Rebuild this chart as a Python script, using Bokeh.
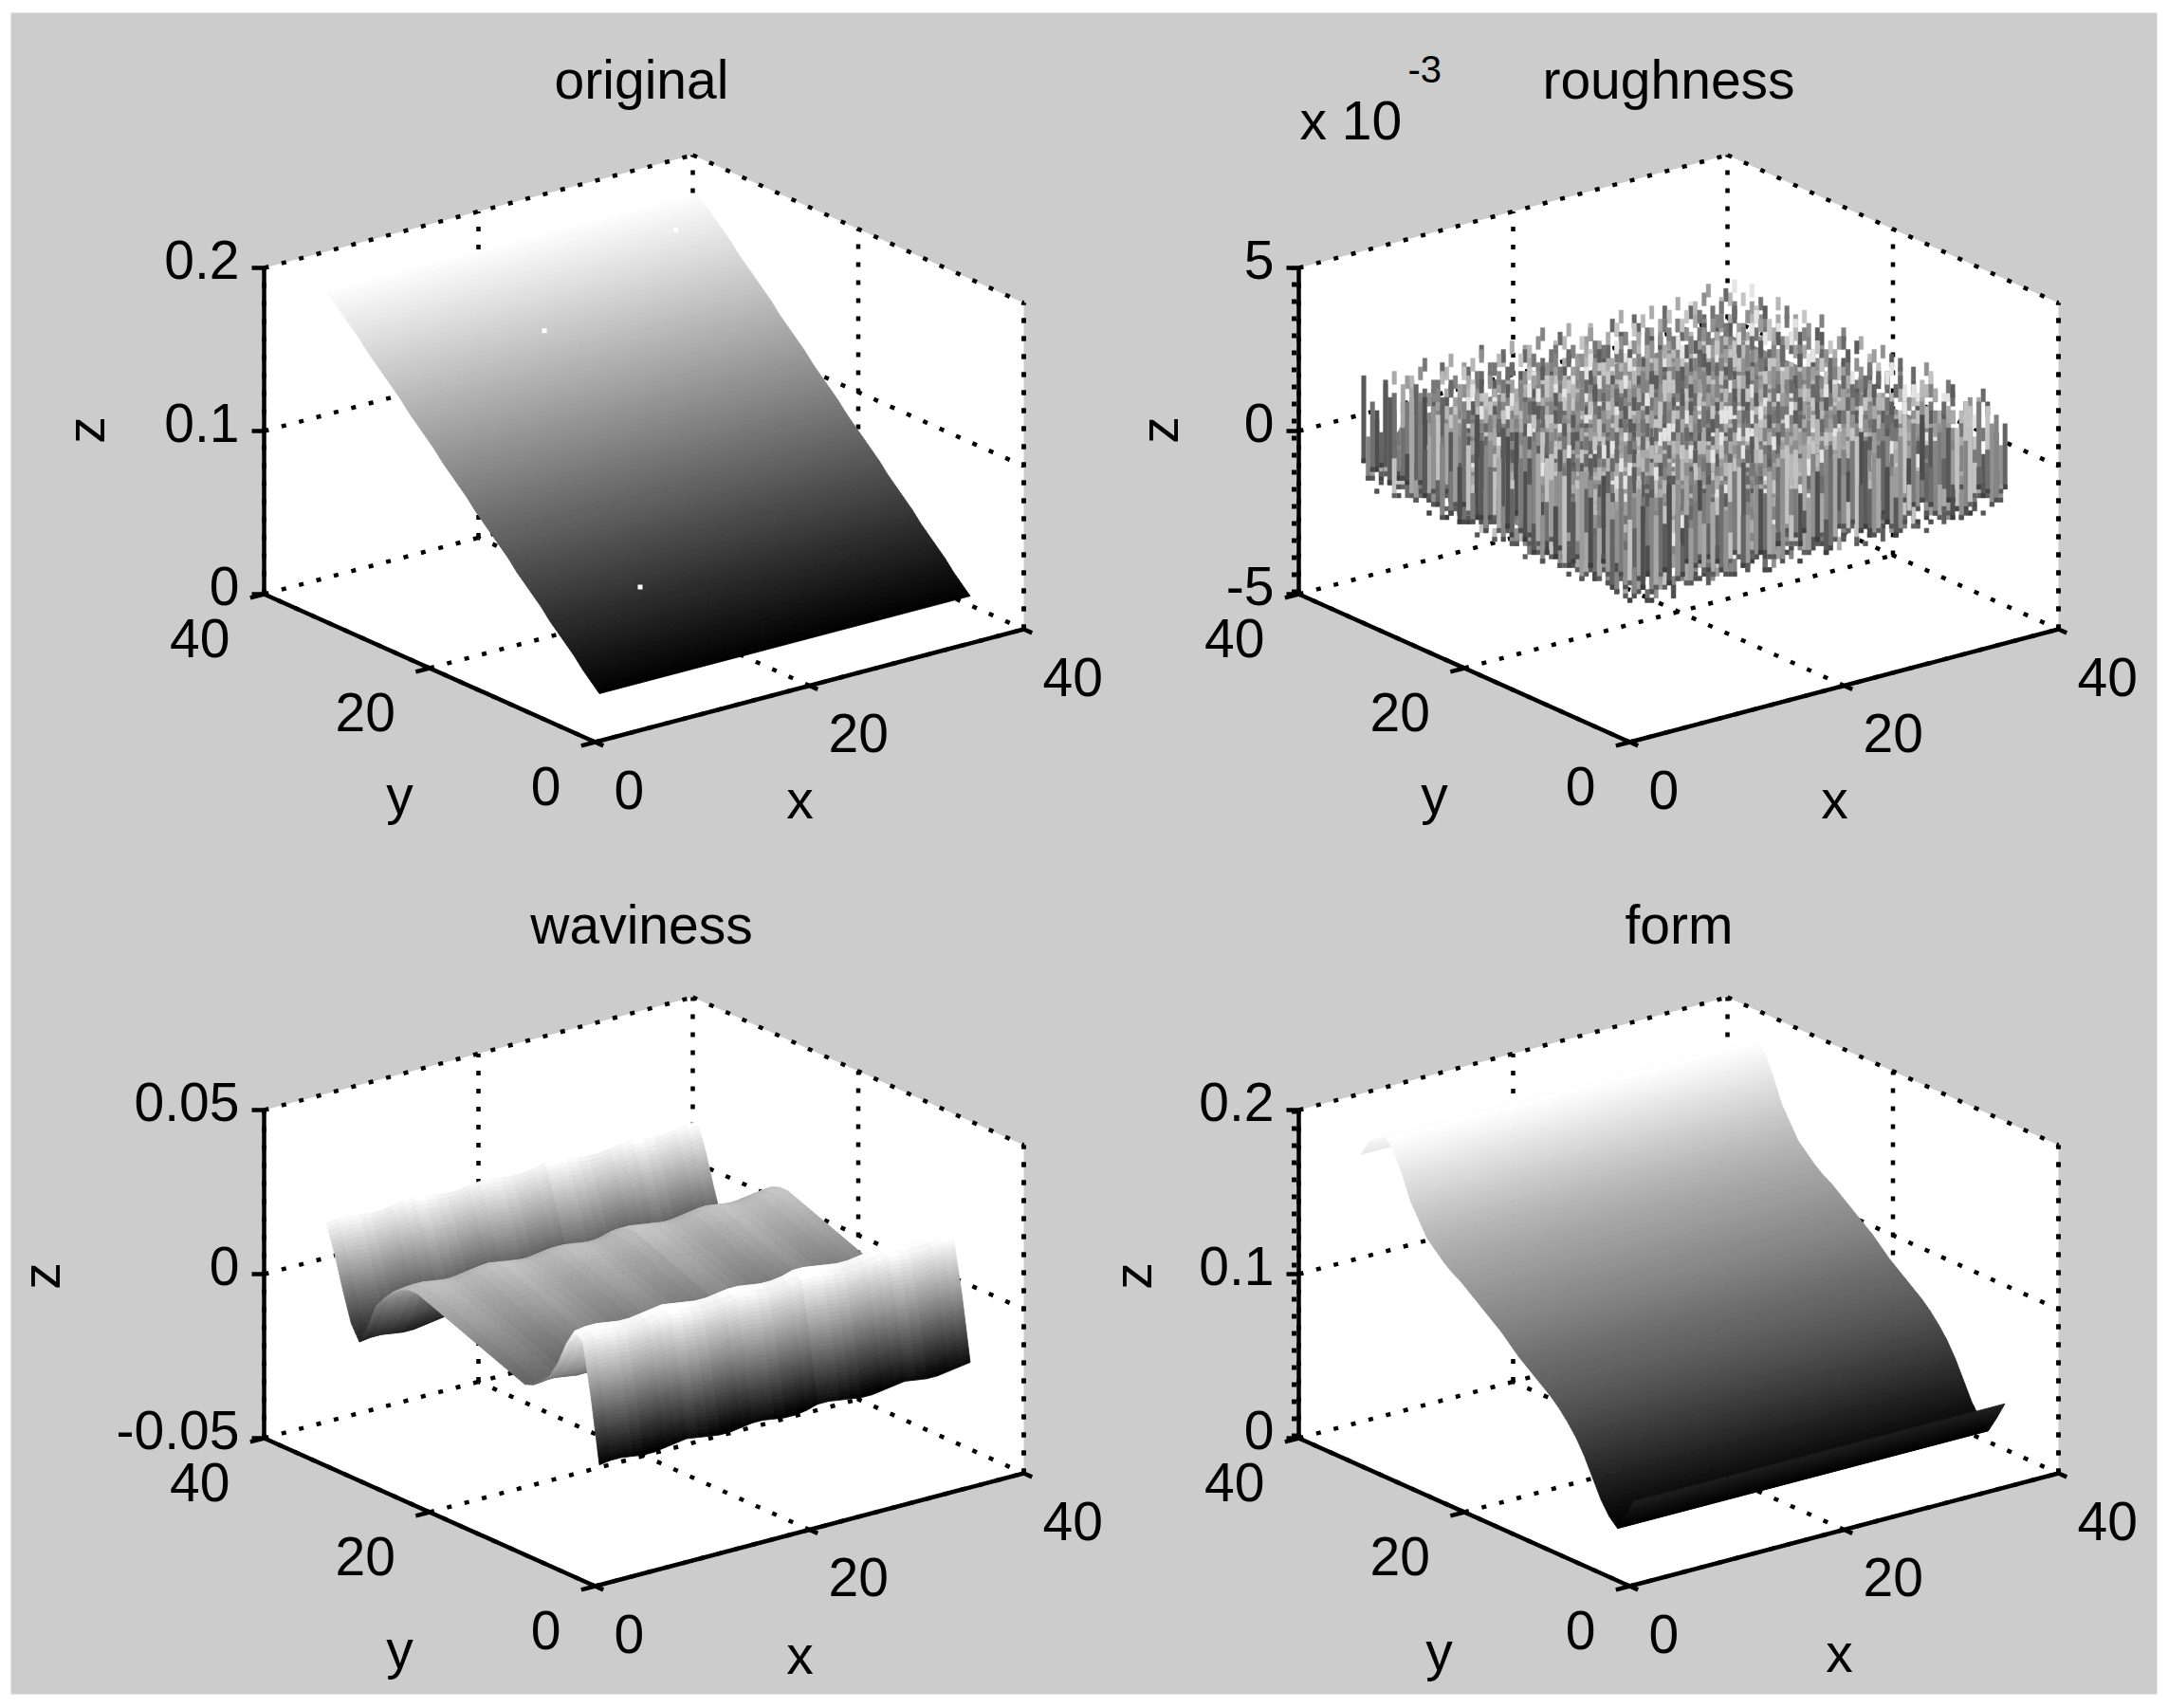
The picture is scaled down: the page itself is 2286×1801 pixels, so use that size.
import numpy as np
from bokeh.plotting import figure
from bokeh.models import Range1d
from bokeh.core.properties import value
from bokeh.embed import file_html
from bokeh.resources import INLINE

# ---- data ----
titles = ["original", "roughness", "waviness", "form"]
x_ticks = [0, 20, 40]
y_ticks = [0, 20, 40]
z_ticks_original = [0, 0.1, 0.2]
z_ticks_roughness = [-5, 0, 5]
z_ticks_waviness = [-0.05, 0, 0.05]
z_ticks_form = [0, 0.1, 0.2]
z_labels_original = ["0", "0.1", "0.2"]
z_labels_roughness = ["-5", "0", "5"]
z_labels_waviness = ["-0.05", "0", "0.05"]
z_labels_form = ["0", "0.1", "0.2"]

y_grid = list(range(34))
x_extent = [0.4, 35.0]
original_z = [0.029,0.034,0.039,0.045,0.050,0.055,0.060,0.066,0.071,0.076,0.081,0.087,0.092,0.097,0.102,0.107,0.113,
              0.118,0.123,0.128,0.134,0.139,0.144,0.149,0.155,0.160,0.165,0.170,0.175,0.181,0.186,0.191,0.196,0.200]
original_specks_x = [31.3, 15.5, 9.3]
original_specks_y = [30.8, 26.2, 6.6]
original_specks_z = [0.190, 0.166, 0.064]
form_z = [0.051,0.040,0.030,0.035,0.043,0.054,0.065,0.074,0.081,0.087,0.092,0.096,0.100,0.104,0.108,0.113,0.118,
          0.122,0.126,0.130,0.134,0.138,0.141,0.145,0.150,0.155,0.164,0.173,0.187,0.199,0.205,0.203,0.198,0.188]
waviness_z = [-0.0134,0.006,0.022,0.024,0.019,0.012,0.007,0.004,0.002,0.001,0.002,0.003,0.004,0.005,0.006,0.007,0.008,
              0.009,0.010,0.011,0.012,0.013,0.014,0.014,0.013,0.011,0.008,0.0045,-0.003,-0.0086,-0.004,0.005,0.015,0.023]
waviness_ripple = [0.0000,0.0005,0.0005,0.0000,-0.0005,-0.0005,0.0000,0.0005,0.0010,0.0005,0.0000,-0.0005,-0.0005,0.0000,0.0005,0.0005,0.0000,
                   -0.0005,-0.0005,0.0000,0.0010,0.0010,0.0005,0.0000,-0.0005,-0.0005,0.0000,0.0005,0.0010,0.0005,0.0000,0.0000,0.0005,0.0010,0.0015]
roughness_low, roughness_high = -0.8, 2.5   # x 10^-3, span seen in the picture
roughness_rows = [
"3817260945112736495527183946051738864950172638491057382219405827",
"7250389146275538169427703816942750138694273850169427358106492735",
"1694827305916482230591468273359146827350941682735094618273059416",
"4082705196408873519640123351964082735916480273519648027951960482",
"9361584827136150482793665048279361504278963150487293615048729361",
"2748159036274215903627481990362748159306278415903267481590362748",
"6059372814605907281460593228146059372184650937281406593728140659",
"8123946570812394657081239165708123946750821394657018239465701823",
"3574082619357408761935740826193574082169375408261357408261935740",
"5916723840591672334059167238405916723804951672384591672384059167",
"1280465937123046593712884659371280465397182046593128046593712804",
"7439518260743951126074395182607439518620734951826439518260743951",
"4603827195460382719546338271954603827159406382719603827195460382",
"9285164037928516493792851640379285164307982516403285164037928516",
"3071649258307164925830716992583071649528370164925071649258307164",
"6748203915674820391567482439156748203195664820391748203915674820",
"0518936427051893642705189364270518936247015893642518936427051893",
"8362570149836257714983625701498362570419863257014362570149836257",
"2197486530219748653021974865302197486350291748653197486530219748",
"5830192674583019267458301926745830192764538019267830192674583019",
"7406258193740625819374062581937406258913704625819406258193740625",
"1975340862197534086219753408621975340682915340862975340862197534",
"4529671308452967130845296713084529671038425967130529671308452967",
"9063817425906381742590638174259063817245960381742063817425906381",
"3682405719368240571936824057193682405179362405719682405719368240",
"6217948350621794835062179483506217948530261794835217948350621794",
"0854123967085412396708541239670854123697058412396854123967085412",
"8391706542839170654283917065428391706452893170654391706542839170",
"2740569183274056918327405691832740569813240569183740569183274056",
"5168392740516839274051683927405168392470561839274168392740516839",
"9425071836942507183694250718369425071386925071836425071836942507",
"3706842951370684295137068429513706842591306842951706842951370684",
"7159263084715926308471592630847159263804159263084159263084715926",
"1483905726148390572614839057261483905276143905726483905726148390",
"6092714385609271438560927143856092714835092714385092714385609271",
"4837150692483715069248371506924837150962487150692837150692483715",
"8256409173825640917382564091738256409713256409173256409173825640",
"0614972538061497253806149725380614972358014972538614972538061497",
"3978261450397826145039782614503978261540978261450978261450397826",
"7340589216734058921673405892167340589126340589216340589216734058",
"2591637084259163708425916370842591637804591637084591637084259163",
"5826047391582604739158260473915826047931826047391826047391582604",
"9103748265910374826591037482659103748625103748265103748265910374",
"4675192830467519283046751928304675192380675192830675192830467519",
"1348620975134862097513486209751348620795348620975348620975134862",
"6792035418679203541867920354186792035148792035418792035418679203",
"3051987624305198762430519876243051987264051987624051987624305198",
"8420763159842076315984207631598420763519420763159420763159842076",
"0867314592086731459208673145920867314952867314592867314592086731",
"5239480716523948071652394807165239480176239480716239480716523948",
"7516823049751682304975168230497516823409516823049516823049751682",
"2948037561294803756129480375612948037651948037561948037561294803",
"9170562483917056248391705624839170562843170562483170562483917056",
"4385291670438529167043852916704385291760385291670385291670438529",
"6702418395670241839567024183956702418935702418395702418395670241",
"1839706254183970625418397062541839706524839706254839706254183970",
"3564128907356412890735641289073564128097564128907564128907356412",
"8097635142809763514280976351428097635412097635142097635142809763",
"2415870369241587036924158703692415870639415870369415870369241587",
"5783096214578309621457830962145783096124783096214783096214578309",
"0926341758092634175809263417580926341578926341758926341758092634",
"7261458093726145809372614580937261458903261458093261458093726145",
"4638902517463890251746389025174638902157638902517638902517463890",
"9150276834915027683491502768349150276384150276834150276834915027",
]

# ---- page geometry ----
GRAY = "#cccccc"
FONT = value("Liberation Sans")
FS = "57px"
BLOCK = 4.6   # the reference is enlarged from a coarse bitmap
p = figure(width=2286, height=1801, output_backend="svg", toolbar_location=None,
           x_range=Range1d(11, 2274), y_range=Range1d(1786, 13),
           min_border_left=11, min_border_right=12, min_border_top=13, min_border_bottom=15,
           background_fill_color=GRAY, border_fill_color="white", outline_line_color=None)
p.xaxis.visible = False
p.yaxis.visible = False
p.grid.visible = False

UX, VX = 11.3, -2.975
UY, VY = -8.725, -3.9


class Box:
    def __init__(self, fx, fy, h, zt):
        self.fx, self.fy, self.h, self.zmin, self.zmax = fx, fy, h, zt[0], zt[-1]

    def __call__(self, x, y, z):
        x, y, z = np.asarray(x, float), np.asarray(y, float), np.asarray(z, float)
        return (self.fx + UX * x + UY * y,
                self.fy + VX * x + VY * y - self.h * (z - self.zmin) / (self.zmax - self.zmin))


def gray_hex(t):
    g = int(round(255 * min(1, max(0, t))))
    return "#%02x%02x%02x" % (g, g, g)


def txt(x, y, s, align="center", base="middle", size=FS, angle=0):
    p.text([x], [y], text=[s], text_font=FONT, text_font_size=size, text_align=align,
           text_baseline=base, text_color="black", angle=angle)


def collect(box):
    segs = []
    def seg(a, b):
        A = box(*a); B = box(*b)
        segs.append(([float(A[0]), float(B[0])], [float(A[1]), float(B[1])]))
    return segs, seg


def frame(box, zt):
    z0, z1 = zt[0], zt[-1]
    xs, ys = [], []
    for a, b, c in [(0, 40, z1), (40, 40, z1), (40, 0, z1), (40, 0, z0), (0, 0, z0), (0, 40, z0)]:
        X, Y = box(a, b, c)
        xs.append(float(X)); ys.append(float(Y))
    p.patch(xs, ys, fill_color="white", line_color=None)
    segs, seg = collect(box)
    seg((0, 40, z1), (40, 40, z1)); seg((40, 40, z1), (40, 0, z1)); seg((40, 0, z0), (40, 0, z1))
    for t in x_ticks[:-1]:
        seg((t, 40, z0), (t, 40, z1))
    for t in y_ticks[:-1]:
        seg((40, t, z0), (40, t, z1))
    seg((40, 40, z0), (40, 40, z1))
    for t in zt[:-1]:
        seg((0, 40, t), (40, 40, t)); seg((40, 40, t), (40, 0, t))
    for t in x_ticks[:-1]:
        seg((t, 0, z0), (t, 40, z0))
    for t in y_ticks[:-1]:
        seg((0, t, z0), (40, t, z0))
    p.multi_line([s[0] for s in segs], [s[1] for s in segs], line_color="black", line_width=4.5, line_dash="5 14")


def axes(box, zt, zl, nubs=False):
    z0, z1 = zt[0], zt[-1]
    segs, seg = collect(box)
    seg((0, 40, z0), (0, 40, z1)); seg((0, 40, z0), (0, 0, z0)); seg((0, 0, z0), (40, 0, z0))
    for t in zt:
        A = box(0, 40, t)
        segs.append(([float(A[0]) - 13, float(A[0])], [float(A[1]), float(A[1])]))
    for t in x_ticks:
        seg((t, 0, z0), (t, -1.0, z0))
    for t in y_ticks:
        seg((0, t, z0), (-1.3, t, z0))
    p.multi_line([s[0] for s in segs], [s[1] for s in segs], line_color="black", line_width=4.5)
    if nubs:
        A = box(0, 40, z0); B = box(0, 40, z1)
        p.line([float(A[0]) - 5, float(B[0]) - 5], [float(A[1]), float(B[1])], line_color="black",
               line_width=5, line_dash="5 13")
    for t, s in zip(zt, zl):
        A = box(0, 40, t)
        txt(float(A[0]) - 26, float(A[1]) - 9, s, align="right")
    for t in x_ticks:
        A = box(t, 0, z0)
        txt(float(A[0]) + 20, float(A[1]) + 50, str(t), align="left")
    for t in y_ticks:
        A = box(0, t, z0)
        txt(float(A[0]) - 36, float(A[1]) + 46, str(t), align="right")


def steps(box, z_a, z_b):
    px = abs(z_b - z_a) / (box.zmax - box.zmin) * box.h
    return max(2, int(np.ceil(px / 4)))


def strips(box, zs, cmin, cmax):
    xs, ys, cs = [], [], []
    for j in range(len(y_grid) - 2, -1, -1):
        sub = steps(box, zs[j], zs[j + 1])
        for k in range(sub - 1, -1, -1):
            t0, t1 = k / sub, (k + 1) / sub
            y0 = y_grid[j] + t0; y1 = y_grid[j] + t1
            z0 = zs[j] + t0 * (zs[j + 1] - zs[j]); z1 = zs[j] + t1 * (zs[j + 1] - zs[j])
            a = box(x_extent[0], y0, z0); b = box(x_extent[1], y0, z0)
            c = box(x_extent[1], y1, z1); d = box(x_extent[0], y1, z1)
            xs.append([float(q[0]) for q in (a, b, c, d)]); ys.append([float(q[1]) for q in (a, b, c, d)])
            cs.append(gray_hex((0.5 * (z0 + z1) - cmin) / (cmax - cmin)))
    p.patches(xs, ys, fill_color=cs, line_color=cs, line_width=0.8)


def waves(box, zs, ripple, cmin, cmax):
    xs, ys, cs = [], [], []
    nx = len(ripple)
    gx = np.linspace(x_extent[0], x_extent[1], nx)
    for j in range(len(y_grid) - 2, -1, -1):
        sub = steps(box, zs[j], zs[j + 1])
        for k in range(sub - 1, -1, -1):
            t0, t1 = k / sub, (k + 1) / sub
            y0 = y_grid[j] + t0; y1 = y_grid[j] + t1
            z0 = zs[j] + t0 * (zs[j + 1] - zs[j]); z1 = zs[j] + t1 * (zs[j + 1] - zs[j])
            for i in range(nx - 2, -1, -1):
                a = box(gx[i], y0, z0 + ripple[i]); b = box(gx[i + 1], y0, z0 + ripple[i + 1])
                c = box(gx[i + 1], y1, z1 + ripple[i + 1]); d = box(gx[i], y1, z1 + ripple[i])
                xs.append([float(q[0]) for q in (a, b, c, d)]); ys.append([float(q[1]) for q in (a, b, c, d)])
                cs.append(gray_hex((0.5 * (z0 + z1) + 1.5 * ripple[i] - cmin) / (cmax - cmin)))
    p.patches(xs, ys, fill_color=cs, line_color=cs, line_width=0.8)


def rough(box, rows):
    ny = len(rows); nx = min(len(r) for r in rows)
    Z = np.array([[int(c) for c in r[:nx]] for r in rows], float)
    zv = roughness_low + (roughness_high - roughness_low) * Z / 9
    gx = np.linspace(x_extent[0], x_extent[1], nx)
    gy = np.linspace(0, 32.7, ny)
    # backing slab, kept inside the column tips, so that no white shows between the columns
    bx, by = [], []
    x0, x1, y0, y1 = gx[4], gx[-5], gy[4], gy[-5]
    for a, b, c in [(x0, y1, 1.2), (x1, y1, 1.2), (x1, y0, 1.2), (x1, gy[0], 0.0), (gx[0], gy[0], 0.0), (gx[0], y1, 0.0)]:
        X, Y = box(a, b, c)
        bx.append(float(X)); by.append(float(Y))
    p.patch(bx, by, fill_color="#858585", line_color=None)
    L, R, T, B, C = [], [], [], [], []
    for j in range(ny - 1, -1, -1):
        for i in range(nx - 1, -1, -1):
            top = zv[j, i]
            d = Z[(j + 1) % ny, (i + 2) % nx]       # a facet takes its colour from a neighbouring node
            edge = i < 4 or j < 4
            X, Yt = box(gx[i], gy[j], top)
            if edge:
                low = roughness_low + 0.22 * (zv[(j + 1) % ny, (i + 1) % nx] - roughness_low)
                _, Yb = box(gx[i], gy[j], low)
            else:
                Yb = Yt + 3 * BLOCK
            X = round(float(X) / BLOCK) * BLOCK
            Yt = round(float(Yt) / BLOCK) * BLOCK
            Yb = max(round(float(Yb) / BLOCK) * BLOCK, Yt + BLOCK)
            g = 228 if d == 9 else 92 + 13 * d
            if edge:
                g *= 0.85
            L.append(X); R.append(X + BLOCK); T.append(Yt); B.append(Yb); C.append(gray_hex(g / 255))
            if edge:
                L.append(X); R.append(X + BLOCK); T.append(Yb - BLOCK); B.append(Yb)
                C.append(gray_hex((60 + 4 * d) / 255))
    p.quad(left=L, right=R, top=T, bottom=B, fill_color=C, line_color=C, line_width=0.4)


# original
b1 = Box(627, 782, 344, z_ticks_original)
frame(b1, z_ticks_original)
strips(b1, original_z, original_z[0], original_z[-1] * 1.01)
sx, sy = b1(original_specks_x, original_specks_y, original_specks_z)
p.scatter(sx.tolist(), sy.tolist(), marker="square", size=5, fill_color="white", line_color=None)
axes(b1, z_ticks_original, z_labels_original)
txt(676, 83, titles[0]); txt(89, 453, "z", angle=np.pi / 2); txt(421, 837, "y"); txt(843, 842, "x")

# roughness
b2 = Box(1718, 782, 344, z_ticks_roughness)
frame(b2, z_ticks_roughness)
rough(b2, roughness_rows)
axes(b2, z_ticks_roughness, z_labels_roughness, nubs=True)
txt(1759, 83, titles[1]); txt(1221, 453, "z", angle=np.pi / 2); txt(1512, 837, "y"); txt(1934, 842, "x")
txt(1370, 126, "x 10", align="left"); txt(1484, 72, "-3", align="left", size="40px")

# waviness
b3 = Box(627, 1672, 346, z_ticks_waviness)
frame(b3, z_ticks_waviness)
waves(b3, waviness_z, waviness_ripple, min(waviness_z), max(waviness_z))
axes(b3, z_ticks_waviness, z_labels_waviness)
txt(676, 974, titles[2]); txt(42, 1345, "z", angle=np.pi / 2); txt(421, 1738, "y"); txt(843, 1744, "x")

# form
b4 = Box(1718, 1672, 346, z_ticks_form)
frame(b4, z_ticks_form)
strips(b4, form_z, min(form_z), max(form_z))
axes(b4, z_ticks_form, z_labels_form, nubs=True)
txt(1770, 974, titles[3]); txt(1193, 1345, "z", angle=np.pi / 2); txt(1517, 1740, "y"); txt(1939, 1742, "x")

open("out.html", "w").write(file_html(p, INLINE))
